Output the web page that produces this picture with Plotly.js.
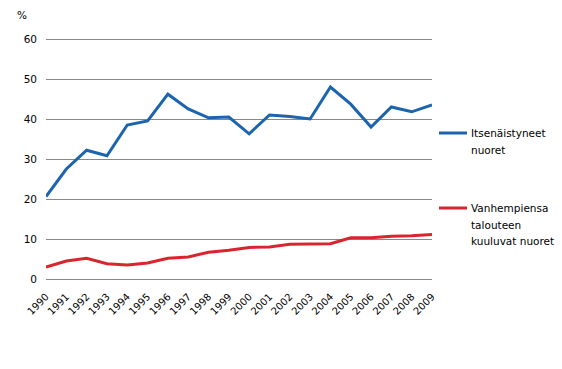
<!DOCTYPE html>
<html><head><meta charset="utf-8">
<script src="https://cdn.plot.ly/plotly-3.0.1.min.js"></script>
<style>html,body{margin:0;padding:0;background:#fff}#chart{width:562px;height:369px}</style>
</head><body><div id="chart"></div>
<script>
const years = ['1990','1991','1992','1993','1994','1995','1996','1997','1998','1999','2000','2001','2002','2003','2004','2005','2006','2007','2008','2009'];
const itsenaistyneet = [20.6,27.5,32.2,30.8,38.5,39.5,46.2,42.5,40.3,40.5,36.3,41.0,40.6,40.0,48.0,43.7,38.0,43.0,41.8,43.5];
const vanhempiensa = [3.0,4.5,5.2,3.8,3.5,4.0,5.2,5.5,6.7,7.2,7.9,8.0,8.7,8.8,8.8,10.3,10.3,10.7,10.8,11.1];
const seriesNames = [['Itsenäistyneet','nuoret'],['Vanhempiensa','talouteen','kuuluvat nuoret']];
const seriesColors = ['#1c64ae','#d9262e'];
const yTicks = [0,10,20,30,40,50,60];

const W = 562, H = 369, L = 46, R = 130, T = 35, B = 86;
const PW = W - L - R, PH = H - T - B;
const px = v => (v - L) / PW;
const py = v => (H - B - v) / PH;

const fam = 'DejaVu Sans, Verdana, sans-serif';
const data = [
  {x: years, y: itsenaistyneet, name: seriesNames[0].join(' '), type:'scatter', mode:'lines', line:{color:seriesColors[0], width:3}},
  {x: years, y: vanhempiensa, name: seriesNames[1].join(' '), type:'scatter', mode:'lines', line:{color:seriesColors[1], width:3}}
];

// custom legend (symbol aligned with first text line)
const legendTop = [133, 208];
const lineGap = 16.5;
const shapes = [], annotations = [];
seriesNames.forEach((lines, i) => {
  shapes.push({type:'line', xref:'paper', yref:'paper', x0:px(439), x1:px(467), y0:py(legendTop[i]), y1:py(legendTop[i]), line:{color:seriesColors[i], width:3}});
  lines.forEach((t, j) => {
    annotations.push({text:t, xref:'paper', yref:'paper', x:px(469), y:py(legendTop[i] + j*lineGap), xanchor:'left', yanchor:'middle', showarrow:false, font:{family:fam, size:10.5, color:'#000'}});
  });
});
annotations.push({text:'%', xref:'paper', yref:'paper', x:px(15), y:py(15), xanchor:'left', yanchor:'middle', showarrow:false, font:{family:fam, size:10.5, color:'#000'}});

const layout = {
  width:W, height:H,
  margin:{l:L, r:R, t:T, b:B},
  paper_bgcolor:'#fff', plot_bgcolor:'#fff',
  font:{family:fam, size:10, color:'#000'},
  showlegend:false,
  xaxis:{type:'category', range:[0,19], tickangle:-45, showgrid:false, zeroline:false, showline:false, ticks:'', ticklabelstandoff:5, tickfont:{size:10}},
  yaxis:{range:[-1,61], tickvals:yTicks, ticktext:yTicks.map(String), showgrid:true, gridcolor:'#888', gridwidth:1, zeroline:false, showline:false, ticks:'', ticklabelstandoff:8, tickfont:{size:10.5}},
  shapes: shapes,
  annotations: annotations
};
Plotly.newPlot('chart', data, layout, {staticPlot:true, displayModeBar:false});
</script></body></html>
